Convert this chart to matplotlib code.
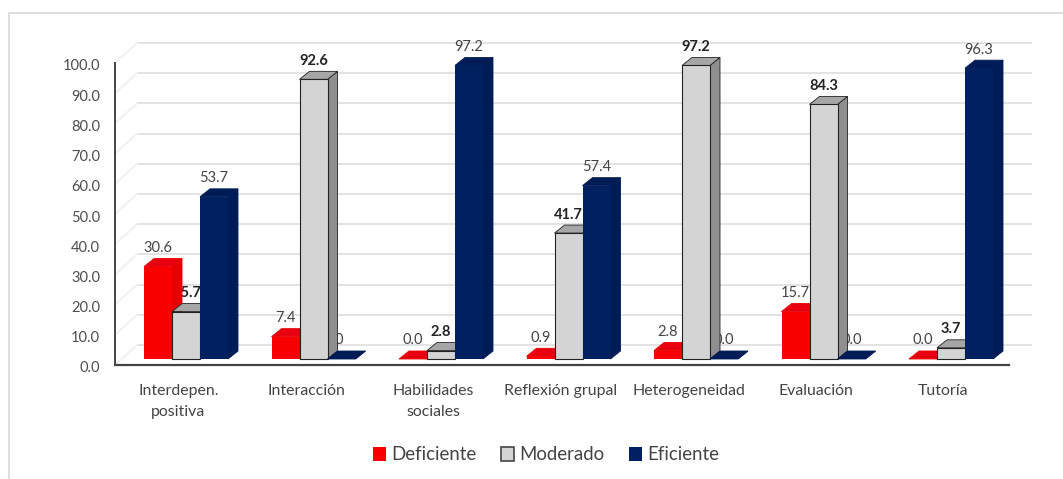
import matplotlib
matplotlib.use("Agg")
import matplotlib.pyplot as plt
from matplotlib.lines import Line2D
from matplotlib.patches import Polygon, Patch

categories = ["Interdepen.\npositiva", "Interacción", "Habilidades\nsociales",
              "Reflexión grupal", "Heterogeneidad", "Evaluación", "Tutoría"]
deficiente = [30.6, 7.4, 0.0, 0.9, 2.8, 15.7, 0.0]
moderado = [15.7, 92.6, 2.8, 41.7, 97.2, 84.3, 3.7]
eficiente = [53.7, 0.0, 97.2, 57.4, 0.0, 0.0, 96.3]
yticks = [0, 10, 20, 30, 40, 50, 60, 70, 80, 90, 100]

W, H = 1063, 479
plt.rcParams['font.family'] = ['Lato', 'DejaVu Sans']
fig = plt.figure(figsize=(W / 100, H / 100), dpi=100)

# Axes spans the plot region; scales are chosen so that the value 0 sits at the floor
PX_PER_UNIT = 3.02
PX_PER_CAT = 127.5
left_px, right_px, top_px, bottom_px = 115, 1032, 40, 365
ax = fig.add_axes([left_px / W, 1 - bottom_px / H, (right_px - left_px) / W, (bottom_px - top_px) / H])
FIRST_CENTER = 186
ax.set_xlim((left_px - FIRST_CENTER) / PX_PER_CAT, (right_px - FIRST_CENTER) / PX_PER_CAT)
ax.set_ylim(-(bottom_px - 359) / PX_PER_UNIT, (359 - top_px) / PX_PER_UNIT)
ax.axis("off")

px_x = 1 / PX_PER_CAT
px_y = 1 / PX_PER_UNIT
bar_w = 28 * px_x
depth_x, depth_y = 10 * px_x, 8 * px_y

# outer frame of the chart: only its top and left edges are visible
fig.add_artist(Line2D([9 / W, 9 / W, 1], [0, 1 - 12.5 / H, 1 - 12.5 / H], transform=fig.transFigure,
                      color="#dcdcdc", lw=1.3))

# floor reference in axes units
x0 = ax.get_xlim()[0]
y_axis_zero = ax.get_ylim()[0]
wall_dx, wall_dy = 22 * px_x, 20 * px_y
x_wall = x0 + wall_dx
x_end = ax.get_xlim()[1]
floor_end = (1009 - FIRST_CENTER) / PX_PER_CAT

for v in yticks:
    yb = y_axis_zero + v + wall_dy
    ax.plot([x_wall, x_end], [yb, yb], color="#e0e0e0", lw=1.3, zorder=1, clip_on=False,
            solid_capstyle="butt")
    ax.plot([x0, x_wall], [yb - wall_dy, yb], color="#f0f0f0", lw=1.3, zorder=1, clip_on=False)
    ax.text(x0 - 15 * px_x, y_axis_zero + v - 3.5 * px_y, f"{v:.1f}", ha="right", va="center",
            fontsize=10.5, color="#4d4d4d", clip_on=False, zorder=2)

ax.plot([x0, x0], [y_axis_zero, y_axis_zero + yticks[-1]], color="#444444", lw=1.4, zorder=3,
        clip_on=False)
ax.plot([x0, floor_end], [y_axis_zero, y_axis_zero], color="#444444", lw=1.6, zorder=3,
        clip_on=False)

series = [
    (deficiente, "Deficiente", "#fb0000", "#e80000", "#e80010", "none", -1, False),
    (moderado, "Moderado", "#d4d4d4", "#8f8f8f", "#a6a6a6", "#222222", 0, True),
    (eficiente, "Eficiente", "#002060", "#001c56", "#001c56", "none", 1, False),
]
label_shift = {(2, 1): -8}

z = 5
for s, (vals, name, front, side, top, edge, pos, bold) in enumerate(series):
    for i, v in enumerate(vals):
        xl = i + pos * bar_w - bar_w / 2
        xr = xl + bar_w
        ax.bar(xl, v, width=bar_w, align="edge", color=front, edgecolor=edge, linewidth=0.8,
               zorder=z + i * 0.01 + 0.2)
        ec = edge if edge != "none" else side
        ax.add_patch(Polygon([(xr, 0), (xr + depth_x, depth_y), (xr + depth_x, v + depth_y), (xr, v)],
                             closed=True, fc=side, ec=ec, lw=0.6, zorder=z + i * 0.01))
        ax.add_patch(Polygon([(xl, v), (xr, v), (xr + depth_x, v + depth_y), (xl + depth_x, v + depth_y)],
                             closed=True, fc=top, ec=ec, lw=0.6, zorder=z + i * 0.01 + 0.1))
        cx = (xl + xr) / 2 + label_shift.get((s, i), 0) * px_x
        ax.text(cx, v + depth_y + 10.5 * px_y, f"{v:.1f}", ha="center", va="center",
                fontsize=10.5, fontweight="bold" if bold else "normal",
                color="#222222" if bold else "#444444", zorder=4, clip_on=False)
    z += 1

# category labels
for i, c in enumerate(categories):
    ax.text(i - 7.5 * px_x, y_axis_zero - 19 * px_y, c, ha="center", va="top",
            fontsize=11.4, color="#444444", linespacing=1.65, clip_on=False)

handles = [Patch(fc=s[2], ec="#444444" if s[5] != "none" else "none", lw=1.2, label=s[1]) for s in series]
fig.legend(handles=handles, loc="center", bbox_to_anchor=(546 / W, 1 - 455 / H), ncol=3, frameon=False,
           fontsize=13.4, handlelength=0.7, handleheight=0.8, handletextpad=0.3, columnspacing=1.3,
           labelcolor="#444444")

fig.savefig("out.png", dpi=100, facecolor="white")
